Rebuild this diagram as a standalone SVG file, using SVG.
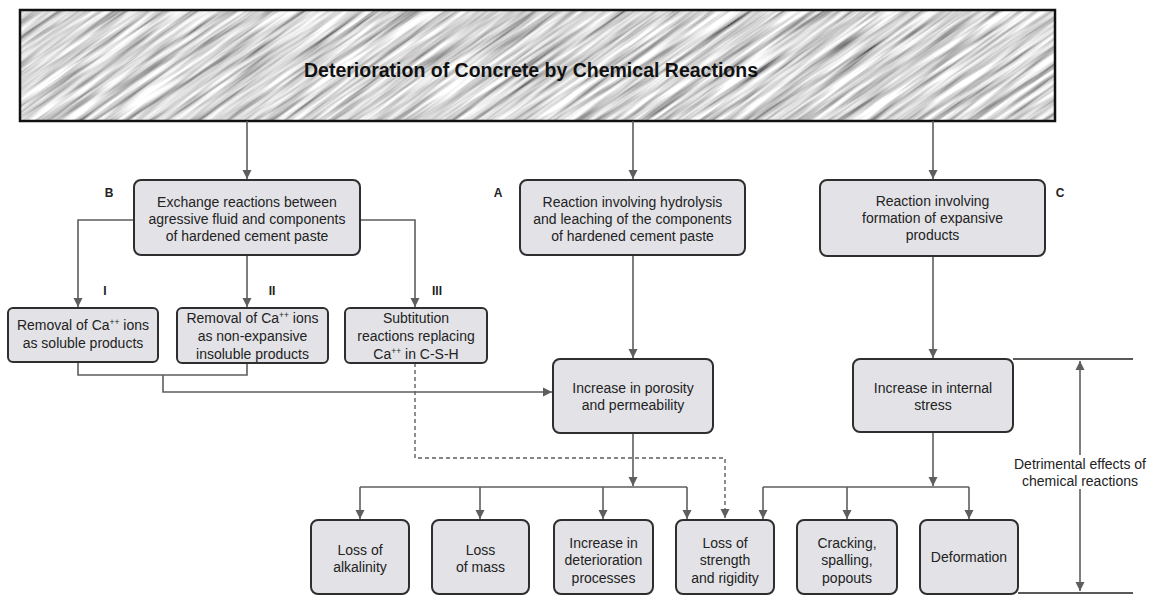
<svg xmlns="http://www.w3.org/2000/svg" width="1158" height="597" viewBox="0 0 1158 597">
<style>
.box{fill:#e3e3e7;stroke:#2e2e2e;stroke-width:2}
.t{font-family:"Liberation Sans",Arial,sans-serif;font-size:14px;fill:#222;text-anchor:middle}
.lbl{font-family:"Liberation Sans",Arial,sans-serif;font-size:12px;font-weight:bold;fill:#222;text-anchor:middle}
.c{fill:none;stroke:#5e5e5e;stroke-width:1.6}
.d{fill:none;stroke:#5e5e5e;stroke-width:1.4;stroke-dasharray:4 3}
.sup{font-size:8.5px}
</style>
<defs>
<marker id="ah" markerWidth="10" markerHeight="10" refX="9" refY="5" orient="auto" markerUnits="userSpaceOnUse">
<path d="M0,0.5 L9,5 L0,9.5 Z" fill="#5e5e5e"/>
</marker>
<marker id="ahs" markerWidth="10" markerHeight="10" refX="1" refY="5" orient="auto" markerUnits="userSpaceOnUse">
<path d="M10,0.5 L1,5 L10,9.5 Z" fill="#5e5e5e"/>
</marker>
<clipPath id="tclip"><rect x="20" y="10" width="1035" height="111"/></clipPath>
<filter id="noise" x="0" y="0" width="100%" height="100%" filterUnits="objectBoundingBox">
<feTurbulence type="fractalNoise" baseFrequency="0.012 0.22" numOctaves="3" seed="7"/>
<feColorMatrix type="matrix" values="1.6 0 0 0 -0.12  1.6 0 0 0 -0.12  1.6 0 0 0 -0.12  0 0 0 0 1"/>
</filter>
</defs>
<rect width="1158" height="597" fill="#fff"/>

<g id="title">
<rect x="20" y="10" width="1035" height="111" fill="#b0b0b0"/>
<g clip-path="url(#tclip)">
<rect transform="rotate(-35 537 65)" x="-100" y="-450" width="1300" height="1030" filter="url(#noise)"/>
</g>
<rect x="20" y="10" width="1035" height="111" fill="none" stroke="#111" stroke-width="2.5"/>
<text x="531" y="77" font-family="'Liberation Sans',Arial,sans-serif" font-size="19.5" font-weight="bold" fill="#111" text-anchor="middle">Deterioration of Concrete by Chemical Reactions</text>
</g>

<g id="connectors">
<path class="c" d="M247,121 V179" marker-end="url(#ah)"/>
<path class="c" d="M633,121 V179" marker-end="url(#ah)"/>
<path class="c" d="M933,121 V179" marker-end="url(#ah)"/>
<path class="c" d="M134,220 H78 V307" marker-end="url(#ah)"/>
<path class="c" d="M247,255 V307" marker-end="url(#ah)"/>
<path class="c" d="M360,220 H415 V307" marker-end="url(#ah)"/>
<path class="c" d="M78,362 V375 H247 V363"/>
<path class="c" d="M163,375 V392 H552" marker-end="url(#ah)"/>
<path class="d" d="M415,363 V458 H725 V518" marker-end="url(#ah)"/>
<path class="c" d="M633,255 V358" marker-end="url(#ah)"/>
<path class="c" d="M633,433 V486" marker-end="url(#ah)"/>
<path class="c" d="M360,487 H687"/>
<path class="c" d="M360,487 V519" marker-end="url(#ah)"/>
<path class="c" d="M480,487 V519" marker-end="url(#ah)"/>
<path class="c" d="M603,487 V519" marker-end="url(#ah)"/>
<path class="c" d="M687,487 V519" marker-end="url(#ah)"/>
<path class="c" d="M933,256 V358" marker-end="url(#ah)"/>
<path class="c" d="M933,432 V486" marker-end="url(#ah)"/>
<path class="c" d="M763,487 H969"/>
<path class="c" d="M763,487 V519" marker-end="url(#ah)"/>
<path class="c" d="M847,487 V519" marker-end="url(#ah)"/>
<path class="c" d="M969,487 V519" marker-end="url(#ah)"/>
<path d="M1013,359 H1133" fill="none" stroke="#222" stroke-width="1.6"/>
<path d="M1018,593 H1133" fill="none" stroke="#222" stroke-width="1.6"/>
<path class="c" d="M1080,361 V591" marker-start="url(#ahs)" marker-end="url(#ah)"/>
</g>

<g id="label-B"><text class="lbl" x="109" y="197">B</text></g>
<g id="label-A"><text class="lbl" x="498" y="197">A</text></g>
<g id="label-C"><text class="lbl" x="1060" y="197">C</text></g>
<g id="label-I"><text class="lbl" x="105" y="295">I</text></g>
<g id="label-II"><text class="lbl" x="272" y="295">II</text></g>
<g id="label-III"><text class="lbl" x="437" y="295">III</text></g>

<g id="node-B">
<rect class="box" x="134" y="180" width="226" height="75" rx="7"/>
<text class="t" x="247" y="207">Exchange reactions between</text>
<text class="t" x="247" y="224">agressive fluid and components</text>
<text class="t" x="247" y="241">of hardened cement paste</text>
</g>
<g id="node-A">
<rect class="box" x="520" y="180" width="225" height="75" rx="7"/>
<text class="t" x="632.5" y="207">Reaction involving hydrolysis</text>
<text class="t" x="632.5" y="224">and leaching of the components</text>
<text class="t" x="632.5" y="241">of hardened cement paste</text>
</g>
<g id="node-C">
<rect class="box" x="820" y="180" width="225" height="76" rx="7"/>
<text class="t" x="932.5" y="206">Reaction involving</text>
<text class="t" x="932.5" y="223">formation of expansive</text>
<text class="t" x="932.5" y="240">products</text>
</g>
<g id="node-I">
<rect class="box" x="8" y="308" width="150" height="54" rx="5"/>
<text class="t" x="83" y="330">Removal of Ca<tspan class="sup" baseline-shift="super">++</tspan> ions</text>
<text class="t" x="83" y="348">as soluble products</text>
</g>
<g id="node-II">
<rect class="box" x="177" y="308" width="151" height="55" rx="5"/>
<text class="t" x="252.5" y="323">Removal of Ca<tspan class="sup" baseline-shift="super">++</tspan> ions</text>
<text class="t" x="252.5" y="341">as non-expansive</text>
<text class="t" x="252.5" y="359">insoluble products</text>
</g>
<g id="node-III">
<rect class="box" x="345" y="308" width="142" height="55" rx="5"/>
<text class="t" x="416" y="323">Subtitution</text>
<text class="t" x="416" y="341">reactions replacing</text>
<text class="t" x="416" y="359">Ca<tspan class="sup" baseline-shift="super">++</tspan> in C-S-H</text>
</g>
<g id="node-porosity">
<rect class="box" x="553" y="359" width="160" height="74" rx="7"/>
<text class="t" x="633" y="393">Increase in porosity</text>
<text class="t" x="633" y="410">and permeability</text>
</g>
<g id="node-stress">
<rect class="box" x="853" y="359" width="160" height="73" rx="7"/>
<text class="t" x="933" y="393">Increase in internal</text>
<text class="t" x="933" y="410">stress</text>
</g>
<g id="node-alkalinity">
<rect class="box" x="311" y="520" width="98" height="74" rx="7"/>
<text class="t" x="360" y="555">Loss of</text>
<text class="t" x="360" y="572">alkalinity</text>
</g>
<g id="node-mass">
<rect class="box" x="432" y="520" width="97" height="74" rx="7"/>
<text class="t" x="480.5" y="555">Loss</text>
<text class="t" x="480.5" y="572">of mass</text>
</g>
<g id="node-deterioration">
<rect class="box" x="554" y="520" width="99" height="74" rx="7"/>
<text class="t" x="603.5" y="548">Increase in</text>
<text class="t" x="603.5" y="565">deterioration</text>
<text class="t" x="603.5" y="583">processes</text>
</g>
<g id="node-strength">
<rect class="box" x="676" y="520" width="98" height="74" rx="7"/>
<text class="t" x="725" y="548">Loss of</text>
<text class="t" x="725" y="565">strength</text>
<text class="t" x="725" y="583">and rigidity</text>
</g>
<g id="node-cracking">
<rect class="box" x="797" y="520" width="100" height="74" rx="7"/>
<text class="t" x="847" y="548">Cracking,</text>
<text class="t" x="847" y="565">spalling,</text>
<text class="t" x="847" y="583">popouts</text>
</g>
<g id="node-deformation">
<rect class="box" x="920" y="520" width="98" height="74" rx="7"/>
<text class="t" x="969" y="562">Deformation</text>
</g>
<g id="label-detrimental">
<rect x="1024" y="455" width="112" height="34" fill="#fff"/>
<text class="t" x="1080" y="469">Detrimental effects of</text>
<text class="t" x="1080" y="486">chemical reactions</text>
</g>
</svg>
